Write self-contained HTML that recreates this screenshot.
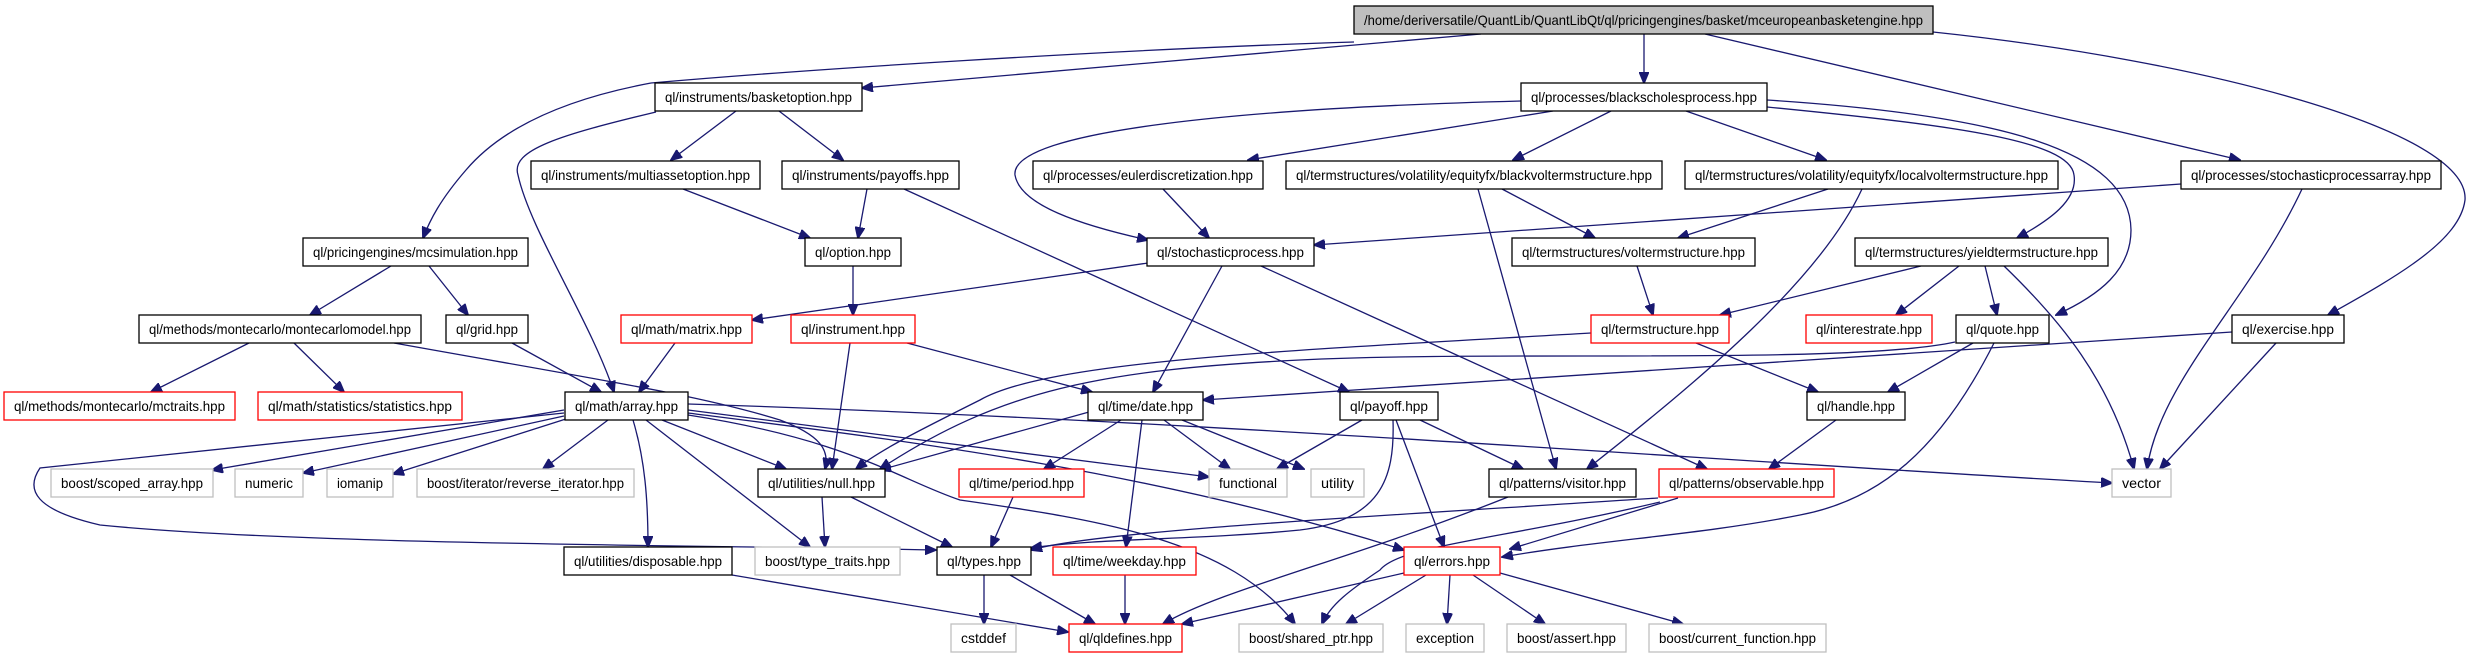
<!DOCTYPE html>
<html><head><meta charset="utf-8"><style>
html,body{margin:0;padding:0;background:#fff;}
svg{display:block;}
text{font-family:"Liberation Sans",sans-serif;font-size:14px;fill:#000;}
.e{fill:none;stroke:#191970;stroke-width:1.3;marker-end:url(#a);}
.n{fill:#fff;stroke:#000;stroke-width:1.3;}
.r{fill:#fff;stroke:#ff0000;stroke-width:1.3;}
.g{fill:#fff;stroke:#bfbfbf;stroke-width:1.3;}
</style></head><body>
<svg width="2472" height="659" viewBox="0 0 2472 659" xmlns="http://www.w3.org/2000/svg">
<defs><marker id="a" markerWidth="12" markerHeight="10" refX="11" refY="5" orient="auto" markerUnits="userSpaceOnUse"><path d="M0,0 L12,5 L0,10 z" fill="#191970" stroke="#191970"/></marker></defs>
<g>
<path class="e" d="M1354,42 C1100,50 800,70 651,83 C560,100 500,130 466,170 C440,200 430,220 423,238"/>
<path class="e" d="M1481,34 L862,88"/>
<path class="e" d="M1644,34 L1644,83"/>
<path class="e" d="M1705,34 L2240,160"/>
<path class="e" d="M1933,32 C2200,60 2470,130 2465,200 C2460,240 2400,275 2328,315"/>
<path class="e" d="M736,111 L671,160"/>
<path class="e" d="M779,111 L843,160"/>
<path class="e" d="M656,112 C560,135 510,150 518,175 C530,230 590,320 614,392"/>
<path class="e" d="M683,189 L810,238"/>
<path class="e" d="M867,189 L858,238"/>
<path class="e" d="M904,189 L1349,392"/>
<path class="e" d="M1521,101 C1250,108 1010,130 1015,175 C1020,205 1080,225 1148,240"/>
<path class="e" d="M1553,111 L1248,160"/>
<path class="e" d="M1611,111 L1513,160"/>
<path class="e" d="M1686,111 L1826,160"/>
<path class="e" d="M1767,107 C1950,125 2070,140 2074,175 C2078,200 2050,220 2017,238"/>
<path class="e" d="M1767,100 C2000,115 2130,150 2131,230 C2131,270 2100,295 2056,315"/>
<path class="e" d="M1163,189 L1209,238"/>
<path class="e" d="M1502,189 L1595,238"/>
<path class="e" d="M1478,189 L1556,469"/>
<path class="e" d="M1828,189 L1678,238"/>
<path class="e" d="M1862,189 C1820,280 1700,380 1587,469"/>
<path class="e" d="M2181,184 L1314,245"/>
<path class="e" d="M2302,189 C2250,300 2160,380 2147,469"/>
<path class="e" d="M391,266 L310,315"/>
<path class="e" d="M429,266 L468,315"/>
<path class="e" d="M1148,263 L752,320"/>
<path class="e" d="M1222,266 L1153,392"/>
<path class="e" d="M1261,266 L1707,469"/>
<path class="e" d="M1637,266 L1653,315"/>
<path class="e" d="M1921,266 L1720,315"/>
<path class="e" d="M1959,266 L1896,315"/>
<path class="e" d="M1985,266 L1997,315"/>
<path class="e" d="M2004,266 C2060,320 2110,380 2134,469"/>
<path class="e" d="M853,266 L853,315"/>
<path class="e" d="M249,343 L151,392"/>
<path class="e" d="M294,343 L344,392"/>
<path class="e" d="M394,343 C600,380 700,395 780,420 C820,435 830,450 825,469"/>
<path class="e" d="M512,343 L601,392"/>
<path class="e" d="M675,343 L639,392"/>
<path class="e" d="M850,343 L832,469"/>
<path class="e" d="M907,343 L1092,392"/>
<path class="e" d="M1591,333 C1300,350 1050,360 980,400 C920,430 880,450 856,469"/>
<path class="e" d="M1696,343 L1818,392"/>
<path class="e" d="M1955,342 C1850,365 1500,350 1300,360 C1100,370 1000,390 880,469"/>
<path class="e" d="M1973,343 L1888,392"/>
<path class="e" d="M1994,343 C1940,450 1880,500 1800,515 C1700,535 1600,540 1502,557"/>
<path class="e" d="M2232,332 L1203,400"/>
<path class="e" d="M2276,343 L2160,469"/>
<path class="e" d="M564,410 L212,470"/>
<path class="e" d="M564,416 L303,473"/>
<path class="e" d="M569,418 L393,474"/>
<path class="e" d="M608,420 L543,469"/>
<path class="e" d="M662,420 L786,469"/>
<path class="e" d="M646,420 L810,547"/>
<path class="e" d="M633,420 C645,460 648,500 648,547"/>
<path class="e" d="M564,413 L40,468 C25,490 35,510 100,525 C300,545 700,545 936,550"/>
<path class="e" d="M688,410 L1209,477"/>
<path class="e" d="M688,404 C1200,420 1700,460 2112,483"/>
<path class="e" d="M688,413 C900,440 1150,470 1404,550"/>
<path class="e" d="M688,415 C850,440 900,480 960,500 C1100,520 1230,540 1295,624"/>
<path class="e" d="M1089,412 L880,470"/>
<path class="e" d="M1121,420 L1044,469"/>
<path class="e" d="M1142,420 L1126,547"/>
<path class="e" d="M1164,420 L1230,469"/>
<path class="e" d="M1182,420 L1304,469"/>
<path class="e" d="M1362,420 L1277,469"/>
<path class="e" d="M1393,420 C1395,480 1380,520 1300,530 C1200,540 1100,538 1031,548"/>
<path class="e" d="M1396,420 L1444,547"/>
<path class="e" d="M1420,420 L1523,469"/>
<path class="e" d="M1836,420 L1769,469"/>
<path class="e" d="M851,497 L952,547"/>
<path class="e" d="M822,497 L825,547"/>
<path class="e" d="M1013,497 L991,547"/>
<path class="e" d="M1508,497 C1350,560 1220,590 1163,624"/>
<path class="e" d="M1658,498 C1400,515 1100,530 1031,550"/>
<path class="e" d="M1660,502 C1500,540 1400,545 1380,570 C1350,590 1330,605 1322,624"/>
<path class="e" d="M1678,498 L1510,549"/>
<path class="e" d="M984,575 L984,624"/>
<path class="e" d="M1010,575 L1095,624"/>
<path class="e" d="M1125,575 L1125,624"/>
<path class="e" d="M732,575 L1068,632"/>
<path class="e" d="M1404,573 L1182,624"/>
<path class="e" d="M1426,575 L1346,624"/>
<path class="e" d="M1450,575 L1447,624"/>
<path class="e" d="M1473,575 L1545,624"/>
<path class="e" d="M1500,573 L1683,624"/>
</g>
<g>
<rect x="1354" y="6" width="579" height="28" fill="#bfbfbf" stroke="#000" stroke-width="1.3"/><text x="1364" y="25" textLength="559" lengthAdjust="spacingAndGlyphs">/home/deriversatile/QuantLib/QuantLibQt/ql/pricingengines/basket/mceuropeanbasketengine.hpp</text>
<rect class="n" x="655" y="83" width="207" height="28"/><text x="665" y="102" textLength="187" lengthAdjust="spacingAndGlyphs">ql/instruments/basketoption.hpp</text>
<rect class="n" x="1521" y="83" width="246" height="28"/><text x="1531" y="102" textLength="226" lengthAdjust="spacingAndGlyphs">ql/processes/blackscholesprocess.hpp</text>
<rect class="n" x="531" y="161" width="229" height="28"/><text x="541" y="180" textLength="209" lengthAdjust="spacingAndGlyphs">ql/instruments/multiassetoption.hpp</text>
<rect class="n" x="782" y="161" width="177" height="28"/><text x="792" y="180" textLength="157" lengthAdjust="spacingAndGlyphs">ql/instruments/payoffs.hpp</text>
<rect class="n" x="1033" y="161" width="230" height="28"/><text x="1043" y="180" textLength="210" lengthAdjust="spacingAndGlyphs">ql/processes/eulerdiscretization.hpp</text>
<rect class="n" x="1286" y="161" width="376" height="28"/><text x="1296" y="180" textLength="356" lengthAdjust="spacingAndGlyphs">ql/termstructures/volatility/equityfx/blackvoltermstructure.hpp</text>
<rect class="n" x="1685" y="161" width="373" height="28"/><text x="1695" y="180" textLength="353" lengthAdjust="spacingAndGlyphs">ql/termstructures/volatility/equityfx/localvoltermstructure.hpp</text>
<rect class="n" x="2181" y="161" width="260" height="28"/><text x="2191" y="180" textLength="240" lengthAdjust="spacingAndGlyphs">ql/processes/stochasticprocessarray.hpp</text>
<rect class="n" x="303" y="238" width="225" height="28"/><text x="313" y="257" textLength="205" lengthAdjust="spacingAndGlyphs">ql/pricingengines/mcsimulation.hpp</text>
<rect class="n" x="805" y="238" width="96" height="28"/><text x="815" y="257" textLength="76" lengthAdjust="spacingAndGlyphs">ql/option.hpp</text>
<rect class="n" x="1147" y="238" width="167" height="28"/><text x="1157" y="257" textLength="147" lengthAdjust="spacingAndGlyphs">ql/stochasticprocess.hpp</text>
<rect class="n" x="1512" y="238" width="243" height="28"/><text x="1522" y="257" textLength="223" lengthAdjust="spacingAndGlyphs">ql/termstructures/voltermstructure.hpp</text>
<rect class="n" x="1855" y="238" width="253" height="28"/><text x="1865" y="257" textLength="233" lengthAdjust="spacingAndGlyphs">ql/termstructures/yieldtermstructure.hpp</text>
<rect class="n" x="139" y="315" width="282" height="28"/><text x="149" y="334" textLength="262" lengthAdjust="spacingAndGlyphs">ql/methods/montecarlo/montecarlomodel.hpp</text>
<rect class="n" x="446" y="315" width="82" height="28"/><text x="456" y="334" textLength="62" lengthAdjust="spacingAndGlyphs">ql/grid.hpp</text>
<rect class="r" x="621" y="315" width="131" height="28"/><text x="631" y="334" textLength="111" lengthAdjust="spacingAndGlyphs">ql/math/matrix.hpp</text>
<rect class="r" x="791" y="315" width="124" height="28"/><text x="801" y="334" textLength="104" lengthAdjust="spacingAndGlyphs">ql/instrument.hpp</text>
<rect class="r" x="1591" y="315" width="138" height="28"/><text x="1601" y="334" textLength="118" lengthAdjust="spacingAndGlyphs">ql/termstructure.hpp</text>
<rect class="r" x="1806" y="315" width="126" height="28"/><text x="1816" y="334" textLength="106" lengthAdjust="spacingAndGlyphs">ql/interestrate.hpp</text>
<rect class="n" x="1956" y="315" width="93" height="28"/><text x="1966" y="334" textLength="73" lengthAdjust="spacingAndGlyphs">ql/quote.hpp</text>
<rect class="n" x="2232" y="315" width="112" height="28"/><text x="2242" y="334" textLength="92" lengthAdjust="spacingAndGlyphs">ql/exercise.hpp</text>
<rect class="r" x="4" y="392" width="231" height="28"/><text x="14" y="411" textLength="211" lengthAdjust="spacingAndGlyphs">ql/methods/montecarlo/mctraits.hpp</text>
<rect class="r" x="258" y="392" width="204" height="28"/><text x="268" y="411" textLength="184" lengthAdjust="spacingAndGlyphs">ql/math/statistics/statistics.hpp</text>
<rect class="n" x="565" y="392" width="123" height="28"/><text x="575" y="411" textLength="103" lengthAdjust="spacingAndGlyphs">ql/math/array.hpp</text>
<rect class="n" x="1088" y="392" width="115" height="28"/><text x="1098" y="411" textLength="95" lengthAdjust="spacingAndGlyphs">ql/time/date.hpp</text>
<rect class="n" x="1340" y="392" width="98" height="28"/><text x="1350" y="411" textLength="78" lengthAdjust="spacingAndGlyphs">ql/payoff.hpp</text>
<rect class="n" x="1807" y="392" width="98" height="28"/><text x="1817" y="411" textLength="78" lengthAdjust="spacingAndGlyphs">ql/handle.hpp</text>
<rect class="g" x="51" y="469" width="162" height="28"/><text x="61" y="488" textLength="142" lengthAdjust="spacingAndGlyphs">boost/scoped_array.hpp</text>
<rect class="g" x="235" y="469" width="68" height="28"/><text x="245" y="488" textLength="48" lengthAdjust="spacingAndGlyphs">numeric</text>
<rect class="g" x="327" y="469" width="66" height="28"/><text x="337" y="488" textLength="46" lengthAdjust="spacingAndGlyphs">iomanip</text>
<rect class="g" x="417" y="469" width="217" height="28"/><text x="427" y="488" textLength="197" lengthAdjust="spacingAndGlyphs">boost/iterator/reverse_iterator.hpp</text>
<rect class="n" x="758" y="469" width="127" height="28"/><text x="768" y="488" textLength="107" lengthAdjust="spacingAndGlyphs">ql/utilities/null.hpp</text>
<rect class="r" x="959" y="469" width="125" height="28"/><text x="969" y="488" textLength="105" lengthAdjust="spacingAndGlyphs">ql/time/period.hpp</text>
<rect class="g" x="1209" y="469" width="78" height="28"/><text x="1219" y="488" textLength="58" lengthAdjust="spacingAndGlyphs">functional</text>
<rect class="g" x="1311" y="469" width="53" height="28"/><text x="1321" y="488" textLength="33" lengthAdjust="spacingAndGlyphs">utility</text>
<rect class="n" x="1489" y="469" width="147" height="28"/><text x="1499" y="488" textLength="127" lengthAdjust="spacingAndGlyphs">ql/patterns/visitor.hpp</text>
<rect class="r" x="1659" y="469" width="175" height="28"/><text x="1669" y="488" textLength="155" lengthAdjust="spacingAndGlyphs">ql/patterns/observable.hpp</text>
<rect class="g" x="2112" y="469" width="59" height="28"/><text x="2122" y="488" textLength="39" lengthAdjust="spacingAndGlyphs">vector</text>
<rect class="n" x="564" y="547" width="168" height="28"/><text x="574" y="566" textLength="148" lengthAdjust="spacingAndGlyphs">ql/utilities/disposable.hpp</text>
<rect class="g" x="755" y="547" width="145" height="28"/><text x="765" y="566" textLength="125" lengthAdjust="spacingAndGlyphs">boost/type_traits.hpp</text>
<rect class="n" x="937" y="547" width="94" height="28"/><text x="947" y="566" textLength="74" lengthAdjust="spacingAndGlyphs">ql/types.hpp</text>
<rect class="r" x="1053" y="547" width="143" height="28"/><text x="1063" y="566" textLength="123" lengthAdjust="spacingAndGlyphs">ql/time/weekday.hpp</text>
<rect class="r" x="1404" y="547" width="96" height="28"/><text x="1414" y="566" textLength="76" lengthAdjust="spacingAndGlyphs">ql/errors.hpp</text>
<rect class="g" x="951" y="624" width="65" height="28"/><text x="961" y="643" textLength="45" lengthAdjust="spacingAndGlyphs">cstddef</text>
<rect class="r" x="1069" y="624" width="113" height="28"/><text x="1079" y="643" textLength="93" lengthAdjust="spacingAndGlyphs">ql/qldefines.hpp</text>
<rect class="g" x="1239" y="624" width="144" height="28"/><text x="1249" y="643" textLength="124" lengthAdjust="spacingAndGlyphs">boost/shared_ptr.hpp</text>
<rect class="g" x="1406" y="624" width="78" height="28"/><text x="1416" y="643" textLength="58" lengthAdjust="spacingAndGlyphs">exception</text>
<rect class="g" x="1507" y="624" width="119" height="28"/><text x="1517" y="643" textLength="99" lengthAdjust="spacingAndGlyphs">boost/assert.hpp</text>
<rect class="g" x="1649" y="624" width="177" height="28"/><text x="1659" y="643" textLength="157" lengthAdjust="spacingAndGlyphs">boost/current_function.hpp</text>
</g>
</svg>
</body></html>
